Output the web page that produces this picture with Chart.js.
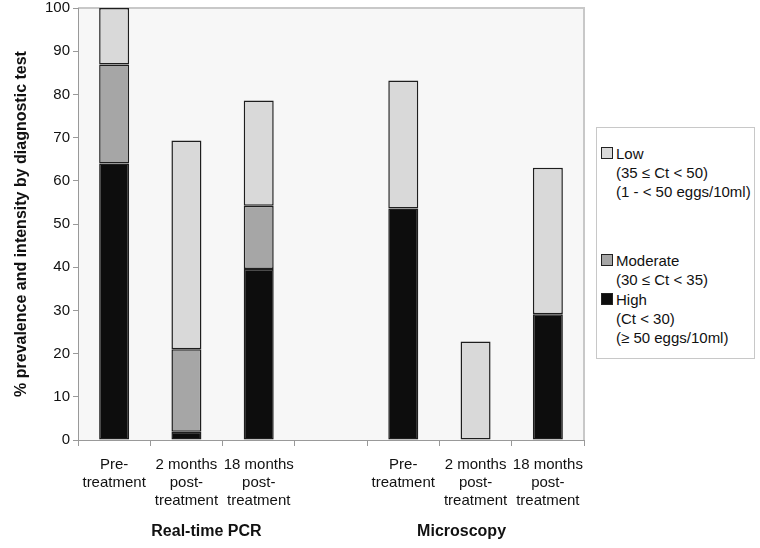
<!DOCTYPE html>
<html>
<head>
<meta charset="utf-8">
<script src="https://cdn.jsdelivr.net/npm/chart.js@4/dist/chart.umd.min.js"></script>
<style>
  html, body { margin: 0; padding: 0; background: #fff; }
  #wrap { position: relative; width: 760px; height: 548px; }
  #legend {
    position: absolute; left: 596px; top: 127px; width: 159px; height: 232px;
    border: 1px solid #c8c8c8; background: #fff; box-sizing: border-box;
    font-family: "Liberation Sans", Arial, sans-serif; font-size: 15px; color: #111;
  }
  .item { position: absolute; left: 4px; line-height: 19px; }
  .sw { display: inline-block; width: 10px; height: 10px; border: 1px solid #222; margin-right: 3px; vertical-align: 0px; }
  .sub { padding-left: 15px; }
</style>
</head>
<body>
<div id="wrap">
  <canvas id="chart" width="760" height="548"></canvas>
  <div id="legend"></div>
</div>
<script>
const categories = [
  ["Pre-", "treatment"],
  ["2 months", "post-", "treatment"],
  ["18 months", "post-", "treatment"],
  "",
  ["Pre-", "treatment"],
  ["2 months", "post-", "treatment"],
  ["18 months", "post-", "treatment"]
];
const groupLabels = ["Real-time PCR", "Microscopy"];

// stacked segment heights (%)
const highValues = [64, 1.9, 39.6, null, 53.6, 0, 29.1];
const moderateValues = [22.9, 19.1, 14.6, null, null, null, null];
const lowValues = [13.1, 48.3, 24.4, null, 29.6, 22.8, 33.9];

const seriesNames = ["High", "Moderate", "Low"];
const seriesColors = ["#0d0d0d", "#a6a6a6", "#d9d9d9"];
const legendText = {
  "Low": ["(35 \u2264 Ct < 50)", "(1 - < 50 eggs/10ml)"],
  "Moderate": ["(30 \u2264 Ct < 35)"],
  "High": ["(Ct < 30)", "(\u2265 50 eggs/10ml)"]
};

const FONT = "'Liberation Sans', Arial, sans-serif";

// plot background + group labels
const decor = {
  id: "decor",
  beforeDraw(chart) {
    const { ctx, chartArea: a } = chart;
    ctx.save();
    ctx.fillStyle = "#f7f7f7";
    ctx.fillRect(a.left, a.top, a.right - a.left, a.bottom - a.top);
    ctx.strokeStyle = "#c8c8c8";
    ctx.lineWidth = 2;
    ctx.beginPath();
    ctx.moveTo(a.left, a.top);
    ctx.lineTo(a.right, a.top);
    ctx.lineTo(a.right, a.bottom);
    ctx.stroke();
    ctx.restore();
  },
  afterDraw(chart) {
    const { ctx } = chart;
    const x = chart.scales.x;
    ctx.save();
    ctx.font = "bold 16px " + FONT;
    ctx.fillStyle = "#111";
    ctx.textAlign = "center";
    ctx.textBaseline = "middle";
    ctx.fillText(groupLabels[0], x.getPixelForValue(1) + 20, 532);
    ctx.fillText(groupLabels[1], x.getPixelForValue(5) - 14, 532);
    ctx.restore();
  }
};

const chart = new Chart(document.getElementById("chart"), {
  type: "bar",
  data: {
    labels: categories,
    datasets: [
      { label: seriesNames[0], data: highValues, backgroundColor: seriesColors[0] },
      { label: seriesNames[1], data: moderateValues, backgroundColor: seriesColors[1] },
      { label: seriesNames[2], data: lowValues, backgroundColor: seriesColors[2] }
    ].map(d => Object.assign(d, {
      borderColor: "#1e1e1e", borderWidth: 1.5, borderSkipped: false,
      barPercentage: 0.415, categoryPercentage: 1
    }))
  },
  options: {
    responsive: false,
    animation: false,
    layout: { padding: { left: 0, right: 176, top: 0, bottom: 0 } },
    plugins: { legend: { display: false }, tooltip: { enabled: false } },
    scales: {
      x: {
        stacked: true,
        offset: true,
        afterFit: s => { s.height = 108; },
        border: { color: "#999", width: 1 },
        grid: { offset: true, drawOnChartArea: false, tickLength: 6, color: "#999" },
        ticks: { color: "#111", font: { family: FONT, size: 15 }, padding: 10, maxRotation: 0, autoSkip: false }
      },
      y: {
        stacked: true,
        min: 0, max: 100,
        afterFit: s => { s.width = 78; s.paddingTop = 8; },
        border: { color: "#999", width: 1 },
        grid: { drawOnChartArea: false, tickLength: 5, color: "#999" },
        ticks: { stepSize: 10, color: "#111", font: { family: FONT, size: 15 }, padding: 3 },
        title: {
          display: true, text: "% prevalence and intensity by diagnostic test",
          color: "#111", font: { family: FONT, size: 16, weight: "bold" }, padding: { top: 12, bottom: 0 }
        }
      }
    }
  },
  plugins: [decor]
});

// legend (Low on top, as in the original)
const legend = document.getElementById("legend");
const legendTops = { "Low": 16, "Moderate": 123, "High": 162 };
["Low", "Moderate", "High"].forEach(name => {
  const i = seriesNames.indexOf(name);
  const el = document.createElement("div");
  el.className = "item";
  el.style.top = legendTops[name] + "px";
  el.innerHTML = '<span class="sw" style="background:' + seriesColors[i] + '"></span>' + name +
    legendText[name].map(t => '<div class="sub">' + t + '</div>').join("");
  legend.appendChild(el);
});
</script>
</body>
</html>
